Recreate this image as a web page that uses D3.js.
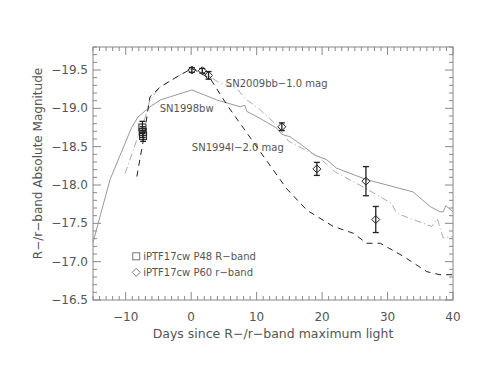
<!DOCTYPE html>
<html>
<head>
<meta charset="utf-8">
<script src="https://cdn.jsdelivr.net/npm/d3@7"></script>
<style>
  body { margin: 0; background: #fff; }
  text { font-family: "DejaVu Sans", sans-serif; fill: #555; }
</style>
</head>
<body>
<div id="chart"></div>
<script>
// light curve data (days since max, absolute magnitude)
var sn1998bwDays = [-15, -12.4, -9.1, -8.1, -6.3, -4.7, -3.2, 0.1, 3.9, 7.5, 8.2, 8.5, 10.5, 13.1, 13.85, 15.1, 16.9, 18.9, 20.7, 22.2, 26.8, 33.9, 36.5, 38, 38.5, 38.9, 40];
var sn1998bwMag = [-17.25, -18.07, -18.75, -18.89, -19.02, -19.11, -19.15, -19.24, -19.11, -19.02, -19.04, -18.96, -18.87, -18.74, -18.66, -18.63, -18.52, -18.39, -18.33, -18.22, -18.07, -17.91, -17.72, -17.65, -17.65, -17.73, -17.65];

var sn2009bbDays = [-10.1, -8.3, -7.0, -6.3, -4.7, -2.2, 0.1, 1.9, 4.4, 7.0, 8.2, 10.3, 13.1, 14.9, 19.4, 22, 26.8, 30.6, 31.4, 36.75, 37.6, 38.5, 40];
var sn2009bbMag = [-18.15, -18.59, -18.89, -19.11, -19.28, -19.41, -19.52, -19.46, -19.33, -19.26, -19.13, -19.0, -18.78, -18.57, -18.37, -18.17, -17.95, -17.76, -17.63, -17.46, -17.56, -17.31, -17.33];

var sn1994iDays = [-8.3, -7.3, -6.3, -4.7, -2.2, 0.1, 2.9, 5.5, 8.0, 10.5, 14.6, 17.7, 21.7, 24.8, 26.8, 28.9, 32.4, 36, 38, 40];
var sn1994iMag = [-18.11, -18.59, -19.15, -19.28, -19.41, -19.52, -19.39, -19.04, -18.74, -18.44, -17.95, -17.67, -17.46, -17.37, -17.24, -17.24, -17.07, -16.87, -16.83, -16.83];

// iPTF17cw photometry
var p48Days = [-7.45, -7.4, -7.35];
var p48Mag = [-18.75, -18.69, -18.64];
var p48Err = [0.08, 0.07, 0.07];

var p60Days = [0.1, 1.7, 2.65, 13.85, 19.2, 26.7, 28.2];
var p60Mag = [-19.5, -19.49, -19.43, -18.76, -18.21, -18.05, -17.55];
var p60Err = [0.03, 0.03, 0.05, 0.05, 0.085, 0.19, 0.17];

var xTicks = [-10, 0, 10, 20, 30, 40];
var yTicks = [-16.5, -17.0, -17.5, -18.0, -18.5, -19.0, -19.5];

var width = 491, height = 379;
var margin = { left: 93, right: 38, top: 47, bottom: 79 };

var svg = d3.select('#chart').append('svg')
  .attr('width', width)
  .attr('height', height);

var x = d3.scaleLinear().domain([-15, 40]).range([margin.left, width - margin.right]);
var y = d3.scaleLinear().domain([-16.5, -19.8]).range([height - margin.bottom, margin.top]);

var axisColor = '#888';
var fmtY = function (d) { return d3.format('.1f')(d).replace('-', '\u2212'); };
var fmtX = function (d) { return String(d).replace('-', '\u2212'); };

// frame
svg.append('rect')
  .attr('x', x(-15)).attr('y', y(-19.8))
  .attr('width', x(40) - x(-15)).attr('height', y(-16.5) - y(-19.8))
  .attr('fill', 'none').attr('stroke', axisColor).attr('stroke-width', 1);

// ticks (inward, on all four sides)
var minorX = d3.range(-15, 40.01, 1);
var minorY = d3.range(-16.5, -19.81, -0.1);
var tickG = svg.append('g').attr('stroke', axisColor).attr('stroke-width', 1);
minorX.forEach(function (d) {
  var major = Math.abs(d % 10) < 1e-6;
  var len = major ? 8 : 4;
  tickG.append('line').attr('x1', x(d)).attr('x2', x(d)).attr('y1', y(-16.5)).attr('y2', y(-16.5) - len);
  tickG.append('line').attr('x1', x(d)).attr('x2', x(d)).attr('y1', y(-19.8)).attr('y2', y(-19.8) + len);
});
minorY.forEach(function (d) {
  var major = yTicks.some(function (t) { return Math.abs(t - d) < 1e-6; });
  var len = major ? 8 : 4;
  tickG.append('line').attr('x1', x(-15)).attr('x2', x(-15) + len).attr('y1', y(d)).attr('y2', y(d));
  tickG.append('line').attr('x1', x(40)).attr('x2', x(40) - len).attr('y1', y(d)).attr('y2', y(d));
});

// tick labels
svg.append('g').selectAll('text').data(xTicks).enter().append('text')
  .attr('x', function (d) { return x(d); })
  .attr('y', y(-16.5) + 21)
  .attr('text-anchor', 'middle')
  .attr('font-size', 12)
  .text(fmtX);

svg.append('g').selectAll('text').data(yTicks).enter().append('text')
  .attr('x', x(-15) - 5)
  .attr('y', function (d) { return y(d) + 4; })
  .attr('text-anchor', 'end')
  .attr('font-size', 12)
  .text(fmtY);

// axis titles
svg.append('text')
  .attr('x', (x(-15) + x(40)) / 2)
  .attr('y', y(-16.5) + 38)
  .attr('text-anchor', 'middle')
  .attr('font-size', 12.5)
  .text('Days since R\u2212/r\u2212band maximum light');

svg.append('text')
  .attr('transform', 'translate(42,' + ((y(-16.5) + y(-19.8)) / 2 - 10) + ') rotate(-90)')
  .attr('text-anchor', 'middle')
  .attr('font-size', 12)
  .text('R\u2212/r\u2212band Absolute Magnitude');

// comparison curves
var line = d3.line().x(function (d) { return x(d[0]); }).y(function (d) { return y(d[1]); });
var plotG = svg.append('g');

plotG.append('path')
  .datum(d3.zip(sn1998bwDays, sn1998bwMag))
  .attr('d', line).attr('fill', 'none')
  .attr('stroke', '#999').attr('stroke-width', 1);

plotG.append('path')
  .datum(d3.zip(sn2009bbDays, sn2009bbMag))
  .attr('d', line).attr('fill', 'none')
  .attr('stroke', '#aaa').attr('stroke-width', 1)
  .attr('stroke-dasharray', '7,3,1,3');

plotG.append('path')
  .datum(d3.zip(sn1994iDays, sn1994iMag))
  .attr('d', line).attr('fill', 'none')
  .attr('stroke', '#222').attr('stroke-width', 1)
  .attr('stroke-dasharray', '6,5');

// curve labels
var labelG = svg.append('g').attr('font-size', 10);
labelG.append('text').attr('x', x(-4.8)).attr('y', y(-19.0) + 4).text('SN1998bw');
labelG.append('text').attr('x', x(5.3)).attr('y', y(-19.33) + 4).text('SN2009bb\u22121.0 mag');
labelG.append('text').attr('x', x(0.1)).attr('y', y(-18.5) + 4).text('SN1994I\u22122.0 mag');

// error bars
function errBars(days, mags, errs) {
  var g = plotG.append('g').attr('stroke', '#222').attr('stroke-width', 1.3);
  days.forEach(function (d, i) {
    var xp = x(d), y1 = y(mags[i] - errs[i]), y2 = y(mags[i] + errs[i]);
    g.append('line').attr('x1', xp).attr('x2', xp).attr('y1', y1).attr('y2', y2);
    g.append('line').attr('x1', xp - 3).attr('x2', xp + 3).attr('y1', y1).attr('y2', y1);
    g.append('line').attr('x1', xp - 3).attr('x2', xp + 3).attr('y1', y2).attr('y2', y2);
  });
}
errBars(p48Days, p48Mag, p48Err);
errBars(p60Days, p60Mag, p60Err);

// P48 squares
plotG.append('g').selectAll('rect').data(d3.zip(p48Days, p48Mag)).enter().append('rect')
  .attr('x', function (d) { return x(d[0]) - 3.5; })
  .attr('y', function (d) { return y(d[1]) - 3.5; })
  .attr('width', 7).attr('height', 7)
  .attr('fill', 'none').attr('stroke', '#222').attr('stroke-width', 1);

// P60 diamonds
var diamond = function (cx, cy, r) {
  return 'M' + cx + ',' + (cy - r) + 'L' + (cx + r) + ',' + cy + 'L' + cx + ',' + (cy + r) + 'L' + (cx - r) + ',' + cy + 'Z';
};
plotG.append('g').selectAll('path').data(d3.zip(p60Days, p60Mag)).enter().append('path')
  .attr('d', function (d) { return diamond(x(d[0]), y(d[1]), 4); })
  .attr('fill', 'none').attr('stroke', '#222').attr('stroke-width', 1);

// legend
var legG = svg.append('g').attr('font-size', 10);
var legX = x(-8.4), legY1 = y(-17.07), legY2 = y(-16.86);
legG.append('rect').attr('x', legX - 3.5).attr('y', legY1 - 3.5).attr('width', 7).attr('height', 7)
  .attr('fill', 'none').attr('stroke', '#777');
legG.append('path').attr('d', diamond(legX, legY2, 4)).attr('fill', 'none').attr('stroke', '#777');
legG.append('text').attr('x', legX + 7).attr('y', legY1 + 4).text('iPTF17cw P48 R\u2212band');
legG.append('text').attr('x', legX + 7).attr('y', legY2 + 4).text('iPTF17cw P60 r\u2212band');
</script>
</body>
</html>
